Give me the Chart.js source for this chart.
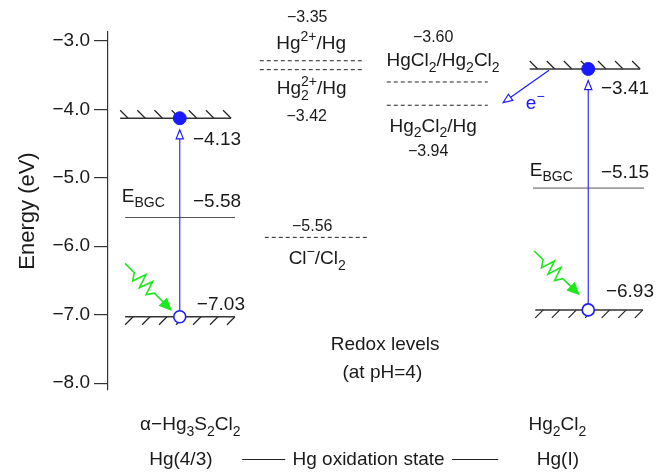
<!DOCTYPE html>
<html>
<head>
<meta charset="utf-8">
<script src="https://cdn.jsdelivr.net/npm/chart.js@4.4.0/dist/chart.umd.min.js"></script>
<style>
  body { margin: 0; background: #fff; }
  canvas { display: block; }
</style>
</head>
<body>
<canvas id="levels" width="670" height="475"></canvas>
<script>
// band edges of the two photocatalysts (eV)
var compounds = ['α−Hg_{3}S_{2}Cl_{2}', 'Hg_{2}Cl_{2}'];
var oxidation = ['Hg(4/3)', 'Hg(I)'];
var cbLevels = [-4.13, -3.41];
var bgcLevels = [-5.58, -5.15];
var vbLevels = [-7.03, -6.93];
var cbText = ['−4.13', '−3.41'];
var bgcText = ['−5.58', '−5.15'];
var vbText = ['−7.03', '−6.93'];

// redox couples at pH 4
var redoxCouples = ['Hg^{2+}/Hg', 'Hg%{2|2+}/Hg', 'HgCl_{2}/Hg_{2}Cl_{2}', 'Hg_{2}Cl_{2}/Hg', 'Cl^{−}/Cl_{2}'];
var redoxText = ['−3.35', '−3.42', '−3.60', '−3.94', '−5.56'];
// where the dashed lines sit in the figure (not always where the label says)
var redoxLevels = [-3.29, -3.42, -3.60, -3.94, -5.87];

var yTicks = [-3, -4, -5, -6, -7, -8];

// layout on a hidden 0..100 x scale
var colX = [13, 87];
var cbSpan = [[2.2, 22.3], [76.4, 96.4]];
var bgcSpan = [[3.1, 23.0], [77.0, 97.1]];
var vbSpan = [[3.1, 23.0], [77.4, 96.9]];
var redoxSpan = [[27.5, 46.2], [27.5, 46.2], [50.5, 68.8], [50.5, 68.8], [28.4, 46.9]];
var tipGap = 0.17;

var FONT = '"Liberation Sans", Arial, Helvetica, sans-serif';
var INK = '#1a1a1a';
var BLUE = '#1a1aff';
var GREEN = '#1ee81e';

function parseRich(str) {
  var segs = [], buf = '', i = 0;
  while (i < str.length) {
    var c = str[i];
    if ((c === '_' || c === '^' || c === '%') && str[i + 1] === '{') {
      if (buf) { segs.push({ t: buf, k: 'n' }); buf = ''; }
      var end = str.indexOf('}', i);
      segs.push({ t: str.slice(i + 2, end), k: c === '_' ? 'sub' : c === '^' ? 'sup' : 'stack' });
      i = end + 1;
    } else { buf += c; i++; }
  }
  if (buf) segs.push({ t: buf, k: 'n' });
  return segs;
}

function drawRich(ctx, str, x, y, size, align, color) {
  var segs = parseRich(str);
  var small = Math.round(size * 0.74);
  var widths = segs.map(function (s) {
    if (s.k === 'n') { ctx.font = size + 'px ' + FONT; return ctx.measureText(s.t).width; }
    ctx.font = small + 'px ' + FONT;
    if (s.k === 'stack') {
      var p = s.t.split('|');
      return Math.max(ctx.measureText(p[0]).width, ctx.measureText(p[1]).width);
    }
    return ctx.measureText(s.t).width;
  });
  var total = widths.reduce(function (a, b) { return a + b; }, 0);
  var cx = align === 'center' ? x - total / 2 : align === 'right' ? x - total : x;
  var base = y + size * 0.36;
  ctx.fillStyle = color || INK;
  ctx.textAlign = 'left';
  ctx.textBaseline = 'alphabetic';
  segs.forEach(function (s, i) {
    if (s.k === 'n') {
      ctx.font = size + 'px ' + FONT;
      ctx.fillText(s.t, cx, base);
    } else {
      ctx.font = small + 'px ' + FONT;
      if (s.k === 'sub') ctx.fillText(s.t, cx, base + size * 0.3);
      else if (s.k === 'sup') ctx.fillText(s.t, cx, base - size * 0.42);
      else {
        var p = s.t.split('|');
        ctx.fillText(p[0], cx, base + size * 0.32);
        ctx.fillText(p[1], cx, base - size * 0.42);
      }
    }
    cx += widths[i];
  });
}

function arrowHead(ctx, tx, ty, fx, fy, len, half, fill, stroke) {
  var a = Math.atan2(ty - fy, tx - fx);
  ctx.save();
  ctx.translate(tx, ty);
  ctx.rotate(a);
  ctx.beginPath();
  ctx.moveTo(0, 0);
  ctx.lineTo(-len, half);
  ctx.lineTo(-len, -half);
  ctx.closePath();
  ctx.fillStyle = fill;
  ctx.fill();
  ctx.strokeStyle = stroke;
  ctx.lineWidth = 1.2;
  ctx.stroke();
  ctx.restore();
}

function photon(ctx, sx, sy, tx, ty) {
  var dx = tx - sx, dy = ty - sy, L = Math.hypot(dx, dy);
  var ux = dx / L, uy = dy / L, nx = -uy, ny = ux;
  var z0 = 0.2 * L, z1 = 0.64 * L, n = 6, amp = 7;
  var pts = [[0, 0], [z0, 0]];
  for (var i = 1; i < n; i++) pts.push([z0 + (z1 - z0) * i / n, i % 2 ? amp : -amp]);
  pts.push([z1, 0], [L - 8, 0]);
  ctx.save();
  ctx.strokeStyle = GREEN;
  ctx.lineWidth = 1.6;
  ctx.lineJoin = 'miter';
  ctx.beginPath();
  pts.forEach(function (p, k) {
    var X = sx + ux * p[0] + nx * p[1], Y = sy + uy * p[0] + ny * p[1];
    if (k) ctx.lineTo(X, Y); else ctx.moveTo(X, Y);
  });
  ctx.stroke();
  ctx.restore();
  arrowHead(ctx, tx, ty, sx, sy, 11, 5, GREEN, GREEN);
}

function hatch(ctx, x0, x1, y, up) {
  var n = 7, h = 8, step = (x1 - x0 - h) / (n - 1);
  ctx.beginPath();
  for (var i = 0; i < n; i++) {
    var x = x0 + i * step;
    if (up) { ctx.moveTo(x, y - h); ctx.lineTo(x + h, y); }
    else { ctx.moveTo(x, y + h); ctx.lineTo(x + h, y); }
  }
  ctx.strokeStyle = '#222';
  ctx.lineWidth = 1.2;
  ctx.stroke();
}

function line(data, color, width, dash) {
  return {
    data: data, showLine: true, borderColor: color, borderWidth: width,
    borderDash: dash || [], pointRadius: 0, fill: false
  };
}

var datasets = [
  {
    data: colX.map(function (x, i) { return { x: x, y: cbLevels[i] }; }),
    pointRadius: 6.5, pointBackgroundColor: BLUE, pointBorderColor: BLUE, showLine: false
  },
  {
    data: colX.map(function (x, i) { return { x: x, y: vbLevels[i] }; }),
    pointRadius: 6, pointBackgroundColor: '#fff', pointBorderColor: BLUE, pointBorderWidth: 1.6, showLine: false
  }
];
colX.forEach(function (x, i) {
  datasets.push(line([{ x: x, y: vbLevels[i] }, { x: x, y: cbLevels[i] - tipGap }], BLUE, 1.1));
});
colX.forEach(function (x, i) {
  datasets.push(line([{ x: cbSpan[i][0], y: cbLevels[i] }, { x: cbSpan[i][1], y: cbLevels[i] }], '#333', 1.5));
  datasets.push(line([{ x: bgcSpan[i][0], y: bgcLevels[i] }, { x: bgcSpan[i][1], y: bgcLevels[i] }], '#555', 1));
  datasets.push(line([{ x: vbSpan[i][0], y: vbLevels[i] }, { x: vbSpan[i][1], y: vbLevels[i] }], '#333', 1.5));
});
redoxLevels.forEach(function (v, i) {
  datasets.push(line([{ x: redoxSpan[i][0], y: v }, { x: redoxSpan[i][1], y: v }], '#222', 1, [4, 3]));
});

var decor = {
  id: 'decor',
  beforeDatasetsDraw: function (chart) {
    var ctx = chart.ctx, xs = chart.scales.x, ys = chart.scales.y;
    ctx.save();
    colX.forEach(function (x, i) {
      hatch(ctx, xs.getPixelForValue(cbSpan[i][0]), xs.getPixelForValue(cbSpan[i][1]), ys.getPixelForValue(cbLevels[i]), true);
      hatch(ctx, xs.getPixelForValue(vbSpan[i][0]), xs.getPixelForValue(vbSpan[i][1]), ys.getPixelForValue(vbLevels[i]), false);
    });
    ctx.restore();
  },
  afterDatasetsDraw: function (chart) {
    var ctx = chart.ctx, xs = chart.scales.x, ys = chart.scales.y;
    function P(x, y) { return [xs.getPixelForValue(x), ys.getPixelForValue(y)]; }
    ctx.save();

    // excitation arrowheads
    colX.forEach(function (x, i) {
      var t = P(x, cbLevels[i] - tipGap);
      arrowHead(ctx, t[0], t[1], t[0], t[1] + 20, 9, 3.6, '#fff', BLUE);
    });

    // incoming light
    [[[3.1, -6.25], [11.4, -6.93]], [[77.2, -6.07], [85.3, -6.70]]].forEach(function (a) {
      var s = P(a[0][0], a[0][1]), t = P(a[1][0], a[1][1]);
      photon(ctx, s[0], s[1], t[0], t[1]);
    });

    // electron transfer to Hg2Cl2/Hg
    var es = P(79.9, -3.43), et = P(71.6, -3.90);
    ctx.strokeStyle = BLUE;
    ctx.lineWidth = 1.2;
    ctx.beginPath();
    ctx.moveTo(es[0], es[1]);
    ctx.lineTo(et[0], et[1]);
    ctx.stroke();
    arrowHead(ctx, et[0], et[1], es[0], es[1], 9, 3.8, '#fff', BLUE);
    var el = P(75.7, -3.89);
    drawRich(ctx, 'e^{−}', el[0], el[1], 19, 'left', BLUE);

    // band edge values
    var cbPos = [[15.4, -4.42], [89.3, -3.67]];
    var bgcPos = [[15.4, -5.32], [89.3, -4.91]];
    var namePos = [[2.5, -5.25], [76.4, -4.87]];
    var vbPos = [[16.1, -6.83], [90.2, -6.64]];
    colX.forEach(function (x, i) {
      var p = P(cbPos[i][0], cbPos[i][1]);
      drawRich(ctx, cbText[i], p[0], p[1], 19, 'left');
      p = P(bgcPos[i][0], bgcPos[i][1]);
      drawRich(ctx, bgcText[i], p[0], p[1], 19, 'left');
      p = P(namePos[i][0], namePos[i][1]);
      drawRich(ctx, 'E_{BGC}', p[0], p[1], 19, 'left');
      p = P(vbPos[i][0], vbPos[i][1]);
      drawRich(ctx, vbText[i], p[0], p[1], 19, 'left');
    });

    // redox labels
    var valPos = [[36.1, -2.644], [36.0, -4.079], [58.9, -2.937], [58.0, -4.592], [37.0, -5.689]];
    var couplePos = [[36.8, -3.025], [36.9, -3.67], [60.7, -3.274], [58.9, -4.225], [37.9, -6.158]];
    redoxCouples.forEach(function (c, i) {
      var p = P(valPos[i][0], valPos[i][1]);
      drawRich(ctx, redoxText[i], p[0], p[1], 16, 'center');
      p = P(couplePos[i][0], couplePos[i][1]);
      drawRich(ctx, c, p[0], p[1], 19, 'center');
    });
    var r = P(50.2, -7.41);
    drawRich(ctx, 'Redox levels', r[0], r[1], 19, 'center');
    r = P(49.7, -7.82);
    drawRich(ctx, '(at pH=4)', r[0], r[1], 19, 'center');

    // compound names and oxidation states under the plot
    var bottom = chart.chartArea.bottom;
    var namesX = [14.9, 81.4], oxX = [13.2, 81.5];
    compounds.forEach(function (c, i) {
      drawRich(ctx, c, xs.getPixelForValue(namesX[i]), bottom + 33, 19, 'center');
      drawRich(ctx, oxidation[i], xs.getPixelForValue(oxX[i]), bottom + 68, 19, 'center');
    });
    drawRich(ctx, 'Hg oxidation state', xs.getPixelForValue(47.2), bottom + 68, 19, 'center');
    ctx.strokeStyle = '#222';
    ctx.lineWidth = 1;
    ctx.beginPath();
    [[24.3, 32.1], [62.3, 70.7]].forEach(function (d) {
      ctx.moveTo(xs.getPixelForValue(d[0]), bottom + 69.5);
      ctx.lineTo(xs.getPixelForValue(d[1]), bottom + 69.5);
    });
    ctx.stroke();
    ctx.restore();
  }
};

new Chart(document.getElementById('levels'), {
  type: 'scatter',
  data: { datasets: datasets },
  plugins: [decor],
  options: {
    responsive: false,
    animation: false,
    layout: { padding: { top: 32, bottom: 85, left: 0, right: 10 } },
    plugins: { legend: { display: false }, tooltip: { enabled: false } },
    scales: {
      x: { type: 'linear', display: false, min: 0, max: 100 },
      y: {
        type: 'linear',
        min: -8.1,
        max: -2.87,
        afterFit: function (s) { s.width = 108; },
        afterBuildTicks: function (s) { s.ticks = yTicks.map(function (v) { return { value: v }; }); },
        grid: { display: true, drawOnChartArea: false, drawTicks: true, tickLength: 14, color: '#333', lineWidth: 1.2 },
        border: { display: true, color: '#333', width: 1.2 },
        ticks: {
          color: INK,
          padding: 4,
          font: { family: FONT, size: 19 },
          callback: function (v) { return (v < 0 ? '−' : '') + Math.abs(v).toFixed(1); }
        },
        title: {
          display: true,
          text: 'Energy (eV)',
          color: INK,
          font: { family: FONT, size: 22 },
          padding: { top: 15, bottom: 0 }
        }
      }
    }
  }
});
</script>
</body>
</html>
